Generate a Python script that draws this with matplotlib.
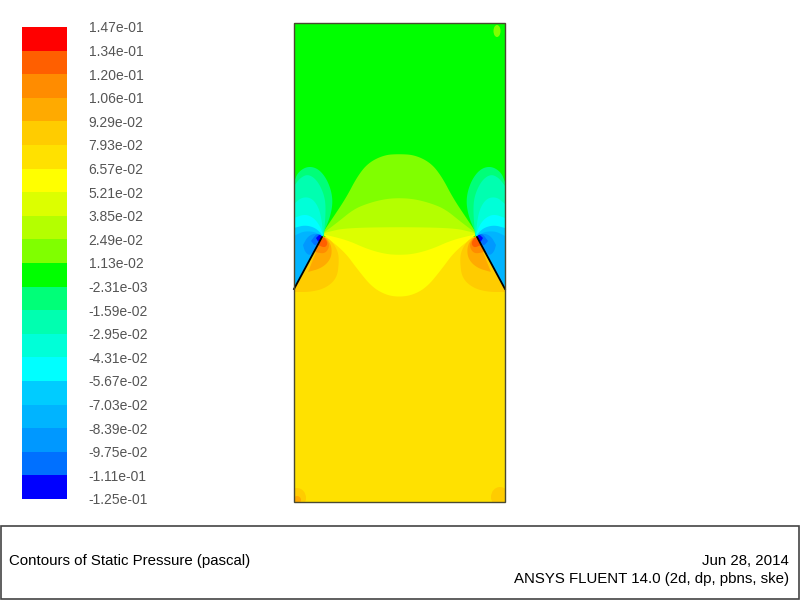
import matplotlib
matplotlib.use("Agg")
import matplotlib.pyplot as plt
from matplotlib.patches import Polygon, Rectangle, Ellipse

plt.rcParams['font.family'] = ['Liberation Sans', 'DejaVu Sans']

# legend, bottom to top
level_labels = ["-1.25e-01", "-1.11e-01", "-9.75e-02", "-8.39e-02", "-7.03e-02", "-5.67e-02",
                "-4.31e-02", "-2.95e-02", "-1.59e-02", "-2.31e-03", "1.13e-02", "2.49e-02",
                "3.85e-02", "5.21e-02", "6.57e-02", "7.93e-02", "9.29e-02", "1.06e-01",
                "1.20e-01", "1.34e-01", "1.47e-01"]
band_colors = ["#0000ff", "#0070ff", "#0098ff", "#00b4ff", "#00ccff", "#00ffff", "#00ffd8",
               "#00ffb0", "#00ff78", "#00ff00", "#80ff00", "#b4ff00", "#dcff00", "#ffff00",
               "#ffe100", "#ffcc00", "#ffaa00", "#ff8c00", "#ff5f00", "#ff0000"]

# contour outlines of the left half in picture pixels, the right half is the mirror
green_arch = [(322, 234), (332, 219), (346, 198), (357, 177), (368, 163), (384, 155), (399, 154)]
lime_arch = [(322, 234), (338, 222), (354, 209), (369, 203), (385, 199), (399, 198)]
pale_top = [(328, 232), (345, 228), (399, 227)]
pale_bottom = [(322, 234), (347, 240), (367, 249), (385, 254), (399, 255)]
yellow_bottom = [(322, 234), (344, 251), (358, 270), (372, 287), (386, 295), (399, 297)]
wall_top = (322, 237)
wall_bottom = (294, 289)
lobe_1 = [(294, 182), (298, 172), (308, 166), (319, 169), (328, 181), (333, 198), (331, 215), (323, 234)]
lobe_2 = [(294, 186), (300, 178), (308, 174), (317, 180), (324, 194), (326, 208), (324, 235)]
lobe_3 = [(294, 204), (302, 197), (312, 198), (319, 208), (322, 222), (323, 235)]
lobe_4 = [(294, 218), (305, 214), (314, 218), (320, 226), (323, 235)]
lobe_5 = [(294, 228), (305, 225), (316, 228), (323, 236)]
lobe_6 = [(294, 236), (304, 231), (316, 232), (322, 237)]
dark_1 = [(303, 245), (308, 236), (316, 233), (322, 237), (316, 249), (310, 256), (305, 252)]
dark_2 = [(311, 241), (317, 233), (322, 236), (316, 247)]
dark_3 = [(316, 238), (320, 234), (322, 237), (319, 243)]
gold_1 = [(294, 292), (311, 292), (326, 288), (337, 278), (339, 262), (338, 251), (331, 240), (323, 236)]
orange_1 = [(308, 272), (322, 268), (331, 259), (332, 247), (327, 238), (322, 237)]
orange_2 = [(315, 252), (325, 254), (330, 246), (326, 238), (322, 237)]
orange_3 = [(318, 245), (325, 248), (328, 243), (324, 237)]


def mirror(points):
    return [(799 - x, y) for x, y in points]


def arch(points):
    return points + mirror(points)[-2::-1]


def smooth(points, rounds=3):
    # corner cutting, the two end points stay where they are
    for _ in range(rounds):
        new = [points[0]]
        for (x0, y0), (x1, y1) in zip(points[:-1], points[1:]):
            new.append((0.75 * x0 + 0.25 * x1, 0.75 * y0 + 0.25 * y1))
            new.append((0.25 * x0 + 0.75 * x1, 0.25 * y0 + 0.75 * y1))
        new.append(points[-1])
        points = new
    return points


fig = plt.figure(figsize=(8, 6), dpi=100)
ax = fig.add_axes([0, 0, 1, 1])
ax.set_xlim(0, 800)
ax.set_ylim(600, 0)
ax.axis("off")

left, right, top, bottom = 294, 505, 23, 502
clip = Rectangle((left, top), right - left, bottom - top, transform=ax.transData)


def fill(points, band, z=2):
    patch = Polygon(points, closed=True, facecolor=band_colors[band], edgecolor="none", zorder=z)
    ax.add_patch(patch)
    patch.set_clip_path(clip)


def fill_both(points, band, z=3):
    fill(points, band, z)
    fill(mirror(points), band, z)


# lower part first, then the arches on top of it
fill([(left, top), (right, top), (right, bottom), (left, bottom)], 9, 1)
fill([(left, wall_bottom[1]), wall_bottom, wall_top, mirror([wall_top])[0],
      (right, wall_bottom[1]), (right, bottom), (left, bottom)], 14, 2)
fill(smooth(arch(green_arch)), 10, 2)
fill(smooth(arch(lime_arch)), 11, 2)
fill(smooth(arch(yellow_bottom)), 13, 2)
fill(smooth(arch(pale_top)) + smooth(arch(pale_bottom))[::-1], 12, 2)

for lobe, band in [(lobe_1, 8), (lobe_2, 7), (lobe_3, 6), (lobe_4, 5), (lobe_5, 4), (lobe_6, 3)]:
    fill_both(smooth(lobe) + [wall_top, wall_bottom, (left, wall_bottom[1])], band)
for shape, band in [(dark_1, 2), (dark_2, 1), (dark_3, 0)]:
    fill_both(smooth(shape + shape[:1]), band, 4)
fill_both(smooth(gold_1) + [wall_bottom], 15, 4)
for shape, band in [(orange_1, 16), (orange_2, 17), (orange_3, 18)]:
    fill_both(smooth(shape), band, 5)

# small spots in the corners
spots = [(497, 31, 7, 12, 10), (297, 498, 18, 20, 15), (297, 500, 8, 8, 16), (500, 497, 18, 20, 15)]
for x, y, w, h, band in spots:
    spot = Ellipse((x, y), w, h, facecolor=band_colors[band], edgecolor="none", zorder=5)
    ax.add_patch(spot)
    spot.set_clip_path(clip)

# walls and frame
ax.plot([wall_bottom[0], wall_top[0]], [wall_bottom[1], wall_top[1]], color="black", lw=1.3, zorder=6)
ax.plot([799 - wall_bottom[0], 799 - wall_top[0]], [wall_bottom[1], wall_top[1]], color="black", lw=1.3, zorder=6)
ax.add_patch(Rectangle((left, top), right - left, bottom - top, fill=False, edgecolor="#4a4a30", lw=1, zorder=7))

# footer
ax.add_patch(Rectangle((1, 526), 798, 73, fill=False, edgecolor="#444444", lw=1.2))
ax.text(9, 561, "Contours of Static Pressure (pascal)", fontsize=10.8, va="center", ha="left", color="black")
ax.text(789, 561, "Jun 28, 2014", fontsize=10.8, va="center", ha="right", color="black")
ax.text(789, 579, "ANSYS FLUENT 14.0 (2d, dp, pbns, ske)", fontsize=10.8, va="center", ha="right", color="black")

# colour legend
cax = fig.add_axes([22 / 800, 1 - 499 / 600, 45 / 800, 472 / 600])
for i, band in enumerate(band_colors):
    cax.bar(0, 1, bottom=i, width=1, color=band, align="edge")
cax.set_xlim(0, 1)
cax.set_ylim(0, len(band_colors))
cax.set_xticks([])
cax.yaxis.tick_right()
cax.set_yticks(range(len(level_labels)))
cax.set_yticklabels(level_labels, fontsize=10, color="#555555")
cax.tick_params(axis="y", length=0, pad=15.5)
for spine in cax.spines.values():
    spine.set_visible(False)

fig.savefig("out.png", dpi=100)
